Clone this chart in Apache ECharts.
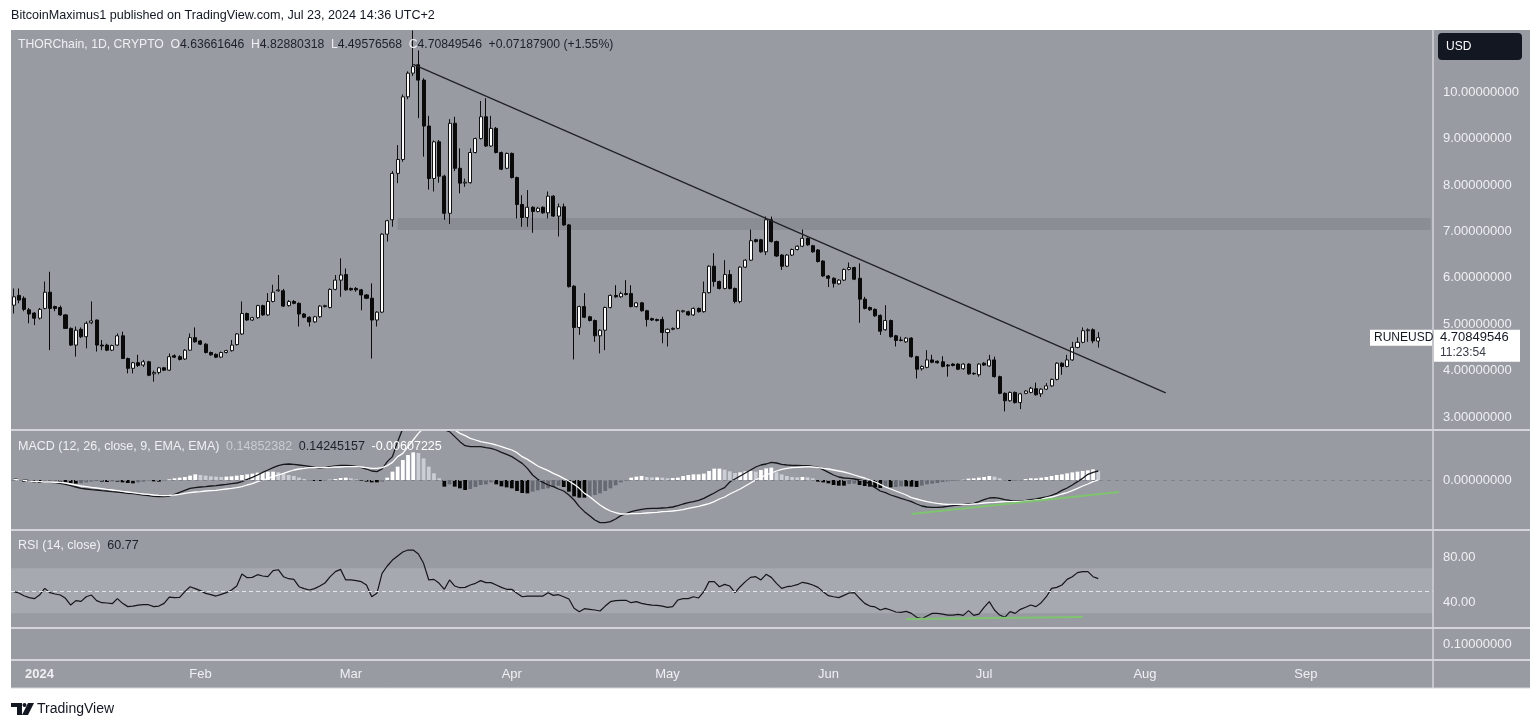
<!DOCTYPE html>
<html>
<head>
<meta charset="utf-8">
<title>THORChain RUNEUSD 1D</title>
<script src="https://cdn.jsdelivr.net/npm/echarts@6/dist/echarts.min.js"></script>
<style>
  html, body { margin: 0; padding: 0; background: #ffffff; }
  #chart { width: 1536px; height: 727px; }
</style>
</head>
<body>
<div id="chart"></div>
<script>
  // daily candles from 2023-12-27 to 2024-07-23, axis runs on to late September
  var startDate = Date.UTC(2023, 11, 27);
  var dayCount = 274;
  var monthNames = ['2024', 'Feb', 'Mar', 'Apr', 'May', 'Jun', 'Jul', 'Aug', 'Sep', 'Oct', 'Nov', 'Dec'];

  // [open, high, low, close]
  var ohlc = [
    [5.41,5.77,5.23,5.59],[5.62,5.77,5.45,5.52],[5.56,5.60,5.28,5.32],[5.31,5.35,5.02,5.22],[5.24,5.26,4.98,5.13],
    [5.13,5.35,5.10,5.32],[5.34,5.92,5.32,5.69],[5.69,6.13,4.44,5.34],[5.38,5.40,5.28,5.34],[5.36,5.40,5.18,5.20],
    [5.20,5.22,4.90,4.91],[4.91,4.93,4.53,4.55],[4.55,4.95,4.30,4.87],[4.89,4.93,4.70,4.73],[4.73,5.06,4.48,5.02],
    [5.03,5.49,5.00,5.07],[5.09,5.10,4.41,4.55],[4.55,4.66,4.44,4.53],[4.55,4.58,4.42,4.44],[4.44,4.56,4.42,4.54],
    [4.55,4.80,4.53,4.75],[4.75,4.84,4.25,4.26],[4.26,4.28,3.94,4.05],[4.05,4.19,3.94,4.17],[4.17,4.34,4.08,4.11],
    [4.12,4.23,4.08,4.19],[4.19,4.21,3.88,3.90],[3.93,4.00,3.76,3.96],[3.96,4.08,3.92,4.06],[4.06,4.08,3.99,4.01],
    [4.01,4.37,3.99,4.30],[4.32,4.35,4.27,4.29],[4.30,4.33,4.22,4.24],[4.25,4.46,4.23,4.44],[4.44,4.80,4.43,4.71],
    [4.71,4.93,4.60,4.62],[4.64,4.66,4.55,4.57],[4.57,4.59,4.37,4.39],[4.39,4.41,4.32,4.34],[4.35,4.37,4.27,4.29],
    [4.29,4.41,4.27,4.39],[4.39,4.45,4.37,4.43],[4.43,4.66,4.41,4.55],[4.56,4.81,4.54,4.79],[4.79,5.49,4.77,5.23],
    [5.23,5.25,5.07,5.09],[5.09,5.16,5.07,5.14],[5.14,5.42,5.12,5.40],[5.40,5.42,5.18,5.20],[5.20,5.67,5.18,5.49],
    [5.49,5.85,5.47,5.69],[5.72,6.06,5.70,5.74],[5.72,5.76,5.37,5.39],[5.40,5.52,5.38,5.49],[5.49,5.52,5.43,5.45],
    [5.45,5.47,4.95,5.22],[5.22,5.24,5.13,5.15],[5.15,5.17,4.95,5.05],[5.05,5.18,5.03,5.16],[5.16,5.41,5.14,5.39],
    [5.38,5.42,5.36,5.40],[5.36,5.77,5.34,5.75],[5.75,6.06,5.73,5.95],[5.95,6.42,5.59,6.06],[6.07,6.20,5.72,5.74],
    [5.77,5.79,5.72,5.74],[5.77,5.80,5.70,5.74],[5.74,5.76,5.30,5.63],[5.63,5.65,5.54,5.56],[5.56,5.88,4.26,5.09],
    [5.09,5.28,4.95,5.26],[5.26,6.96,5.24,6.94],[6.94,7.25,6.78,7.23],[7.25,8.30,7.10,8.25],[8.25,8.86,8.04,8.55],
    [8.55,9.95,8.50,9.90],[9.90,10.45,9.85,10.41],[10.41,11.33,10.35,10.55],[10.59,10.90,9.44,10.26],[10.26,10.30,8.61,9.27],
    [9.27,9.49,7.90,8.14],[8.14,8.96,7.86,8.93],[8.93,8.97,8.05,8.19],[8.19,8.22,7.25,7.39],[7.39,9.42,7.16,9.33],
    [9.33,9.47,8.30,8.36],[8.36,8.79,7.82,8.04],[8.04,8.14,7.96,8.06],[8.05,8.79,8.03,8.70],[8.70,9.02,8.68,9.00],
    [9.00,9.81,8.98,9.47],[9.47,9.87,8.82,8.84],[8.84,9.49,8.82,9.22],[9.22,9.25,8.68,8.70],[8.70,8.72,8.32,8.34],
    [8.36,8.70,8.34,8.68],[8.68,8.70,8.14,8.16],[8.16,8.18,7.28,7.58],[7.58,7.78,7.10,7.30],[7.30,7.89,7.10,7.52],
    [7.52,7.54,6.97,7.43],[7.43,7.53,7.41,7.50],[7.52,7.54,7.38,7.40],[7.40,7.86,7.28,7.76],[7.76,7.78,7.31,7.33],
    [7.33,7.60,6.89,7.53],[7.53,7.60,7.12,7.14],[7.14,7.16,5.79,5.81],[5.82,5.84,4.24,4.93],[4.93,5.40,4.77,5.38],
    [5.38,5.67,5.13,5.15],[5.16,5.18,5.06,5.08],[5.08,5.10,4.62,4.75],[4.75,4.89,4.37,4.87],[4.87,5.38,4.44,5.36],
    [5.36,5.64,5.34,5.62],[5.62,5.84,5.57,5.59],[5.59,5.70,5.57,5.66],[5.66,5.95,5.62,5.64],[5.66,5.84,5.36,5.38],
    [5.38,5.48,5.36,5.46],[5.46,5.48,5.27,5.29],[5.29,5.31,4.95,5.10],[5.12,5.14,5.07,5.09],[5.10,5.12,5.06,5.08],
    [5.10,5.16,4.59,4.82],[4.82,4.91,4.52,4.89],[4.89,4.93,4.87,4.91],[4.91,5.31,4.89,5.29],[5.27,5.31,5.25,5.29],
    [5.27,5.29,5.18,5.20],[5.20,5.36,5.18,5.34],[5.34,5.36,5.25,5.27],[5.27,5.92,5.25,5.68],[5.68,6.27,5.66,6.25],
    [6.25,6.53,5.81,5.92],[5.92,5.94,5.75,5.77],[5.77,6.38,5.75,6.07],[6.07,6.17,5.75,5.77],[5.77,5.79,5.45,5.49],
    [5.49,6.25,5.45,6.23],[6.23,6.40,6.21,6.38],[6.38,7.04,6.36,6.80],[6.82,6.84,6.76,6.78],[6.82,6.84,6.54,6.56],
    [6.56,7.32,6.49,7.25],[7.25,7.32,6.76,6.78],[6.78,6.80,6.45,6.47],[6.49,6.51,6.17,6.25],[6.25,6.51,6.23,6.49],
    [6.49,6.63,6.47,6.61],[6.61,6.70,6.59,6.68],[6.68,7.04,6.66,6.85],[6.85,6.87,6.69,6.71],[6.69,6.71,6.54,6.56],
    [6.60,6.62,6.33,6.35],[6.36,6.38,6.02,6.04],[6.04,6.06,5.80,5.99],[5.99,6.01,5.79,5.88],[5.87,5.97,5.85,5.95],
    [5.95,6.20,5.93,6.18],[6.18,6.33,6.16,6.22],[6.22,6.24,5.95,5.97],[5.99,6.31,5.03,5.54],[5.54,5.59,5.32,5.34],
    [5.36,5.38,5.29,5.31],[5.32,5.34,5.16,5.18],[5.19,5.21,4.77,4.85],[4.88,5.41,4.86,5.08],[5.08,5.10,4.71,4.73],
    [4.75,4.77,4.52,4.65],[4.66,4.73,4.63,4.65],[4.62,4.72,4.60,4.70],[4.70,4.72,4.28,4.30],[4.30,4.32,3.83,4.03],
    [4.04,4.11,4.00,4.09],[4.07,4.44,4.05,4.23],[4.23,4.34,4.16,4.18],[4.20,4.22,4.15,4.17],[4.19,4.31,4.07,4.09],
    [4.12,4.14,3.87,4.10],[4.14,4.16,4.09,4.11],[4.14,4.16,4.01,4.03],[4.04,4.16,4.02,4.14],[4.14,4.16,3.91,3.93],
    [3.94,3.96,3.91,3.93],[3.91,4.16,3.87,4.14],[4.16,4.18,4.10,4.12],[4.10,4.34,4.08,4.23],[4.23,4.30,3.85,3.87],
    [3.87,3.89,3.49,3.51],[3.51,3.53,3.12,3.35],[3.35,3.55,3.33,3.53],[3.53,3.55,3.29,3.31],[3.31,3.52,3.17,3.50],
    [3.51,3.58,3.49,3.56],[3.53,3.65,3.51,3.62],[3.61,3.74,3.46,3.48],[3.50,3.62,3.43,3.60],[3.60,3.73,3.58,3.67],
    [3.67,3.83,3.65,3.81],[3.81,4.18,3.79,4.16],[4.16,4.18,3.91,4.09],[4.09,4.34,4.07,4.23],[4.23,4.62,4.21,4.50],
    [4.50,4.72,4.48,4.61],[4.61,4.93,4.59,4.86],[4.86,4.91,4.62,4.88],[4.88,4.91,4.59,4.64],[4.6366,4.8288,4.4958,4.7085]
  ];

  var macdLine = [
    0.02,0.007,0,-0.013,-0.02,-0.033,-0.04,-0.047,-0.053,-0.067,
    -0.087,-0.113,-0.14,-0.167,-0.18,-0.193,-0.2,-0.213,-0.22,-0.233,
    -0.24,-0.253,-0.267,-0.273,-0.287,-0.3,-0.313,-0.327,-0.333,-0.333,
    -0.32,-0.287,-0.247,-0.207,-0.167,-0.153,-0.14,-0.133,-0.12,-0.113,
    -0.1,-0.087,-0.073,-0.06,-0.033,0.013,0.053,0.1,0.153,0.2,
    0.247,0.287,0.313,0.32,0.313,0.3,0.287,0.273,0.253,0.233,
    0.247,0.267,0.28,0.293,0.293,0.287,0.273,0.247,0.22,0.18,
    0.167,0.22,0.367,0.467,0.767,1.033,1.3,1.567,1.7,1.667,
    1.5,1.333,1.133,1.0,0.967,0.867,0.767,0.687,0.667,0.667,
    0.667,0.647,0.633,0.6,0.553,0.513,0.467,0.4,0.333,0.233,
    0.1,0.013,-0.047,-0.1,-0.133,-0.18,-0.22,-0.3,-0.4,-0.533,
    -0.633,-0.713,-0.8,-0.853,-0.853,-0.833,-0.78,-0.713,-0.673,-0.633,
    -0.607,-0.587,-0.573,-0.567,-0.567,-0.56,-0.553,-0.54,-0.513,-0.48,
    -0.453,-0.433,-0.407,-0.367,-0.313,-0.26,-0.2,-0.153,-0.04,0.02,
    0.08,0.14,0.2,0.26,0.3,0.32,0.353,0.34,0.313,0.3,
    0.293,0.293,0.287,0.287,0.273,0.253,0.207,0.153,0.1,0.06,
    0.04,0.033,0.02,0,-0.02,-0.087,-0.153,-0.22,-0.253,-0.3,
    -0.333,-0.367,-0.4,-0.433,-0.48,-0.52,-0.54,-0.547,-0.547,-0.54,
    -0.527,-0.513,-0.5,-0.487,-0.473,-0.467,-0.433,-0.393,-0.36,-0.353,
    -0.367,-0.393,-0.407,-0.413,-0.42,-0.407,-0.393,-0.38,-0.36,-0.34,
    -0.307,-0.267,-0.207,-0.16,-0.1,-0.033,0.033,0.113,0.153,0.18
  ];

  var signalLine = [
    0.013,0,-0.007,-0.02,-0.027,-0.033,-0.04,-0.04,-0.047,-0.047,
    -0.06,-0.08,-0.1,-0.12,-0.133,-0.147,-0.16,-0.173,-0.187,-0.2,
    -0.213,-0.227,-0.24,-0.253,-0.267,-0.28,-0.287,-0.3,-0.307,-0.313,
    -0.307,-0.3,-0.287,-0.267,-0.253,-0.24,-0.233,-0.22,-0.213,-0.207,
    -0.193,-0.18,-0.167,-0.153,-0.133,-0.1,-0.073,-0.033,0,0.033,
    0.067,0.1,0.133,0.167,0.2,0.22,0.233,0.247,0.247,0.247,
    0.247,0.253,0.26,0.26,0.267,0.267,0.267,0.26,0.247,0.233,
    0.233,0.247,0.287,0.353,0.467,0.533,0.667,0.8,0.933,1.033,
    1.133,1.167,1.18,1.167,1.067,1.0,0.933,0.887,0.833,0.8,
    0.767,0.747,0.727,0.7,0.667,0.633,0.6,0.547,0.467,0.413,
    0.347,0.28,0.233,0.187,0.133,0.087,0.033,-0.02,-0.087,-0.167,
    -0.267,-0.333,-0.42,-0.5,-0.567,-0.62,-0.653,-0.68,-0.68,-0.673,
    -0.673,-0.667,-0.66,-0.653,-0.647,-0.633,-0.627,-0.62,-0.607,-0.593,
    -0.567,-0.547,-0.527,-0.5,-0.473,-0.433,-0.38,-0.34,-0.28,-0.23,
    -0.18,-0.12,-0.06,0,0.05,0.1,0.14,0.18,0.213,0.233,
    0.247,0.253,0.26,0.267,0.26,0.247,0.233,0.22,0.2,0.18,
    0.16,0.133,0.1,0.067,0.04,0,-0.04,-0.087,-0.14,-0.18,
    -0.22,-0.26,-0.3,-0.353,-0.38,-0.407,-0.433,-0.453,-0.467,-0.48,
    -0.487,-0.487,-0.487,-0.487,-0.487,-0.48,-0.473,-0.46,-0.453,-0.447,
    -0.44,-0.433,-0.433,-0.427,-0.427,-0.42,-0.413,-0.4,-0.387,-0.36,
    -0.34,-0.313,-0.28,-0.253,-0.213,-0.167,-0.12,-0.08,-0.033,0
  ];

  var histogram = [
    -0.013,-0.02,-0.033,-0.04,-0.047,-0.06,-0.047,-0.033,-0.02,-0.033,
    -0.053,-0.067,-0.073,-0.067,-0.047,-0.033,-0.02,-0.033,-0.04,-0.027,
    -0.033,-0.047,-0.06,-0.067,-0.047,-0.033,-0.02,-0.027,-0.033,-0.013,
    0.013,0.033,0.047,0.06,0.087,0.113,0.1,0.087,0.073,0.067,
    0.06,0.067,0.073,0.087,0.1,0.113,0.127,0.147,0.16,0.167,
    0.167,0.153,0.127,0.1,0.08,0.047,0.02,-0.013,-0.02,-0.02,
    -0.013,0.005,0.02,0.04,0.047,0.033,0.013,-0.013,-0.033,-0.047,
    -0.047,-0.033,0.047,0.167,0.267,0.4,0.5,0.553,0.54,0.433,
    0.267,0.133,0.033,-0.133,-0.087,-0.133,-0.167,-0.2,-0.18,-0.14,
    -0.1,-0.087,-0.047,-0.087,-0.127,-0.147,-0.167,-0.22,-0.26,-0.267,
    -0.233,-0.207,-0.18,-0.167,-0.14,-0.113,-0.14,-0.233,-0.327,-0.353,
    -0.353,-0.333,-0.3,-0.267,-0.22,-0.167,-0.107,-0.047,-0.013,0.047,
    0.067,0.08,0.06,0.053,0.053,0.047,0.033,0.04,0.047,0.08,
    0.1,0.113,0.113,0.127,0.18,0.227,0.227,0.207,0.173,0.14,
    0.153,0.173,0.18,0.167,0.2,0.233,0.247,0.153,0.113,0.08,
    0.06,0.053,0.06,0.053,0.033,-0.033,-0.047,-0.067,-0.1,-0.113,
    -0.113,-0.08,-0.073,-0.1,-0.12,-0.133,-0.147,-0.16,-0.127,-0.147,
    -0.14,-0.127,-0.127,-0.133,-0.14,-0.113,-0.087,-0.073,-0.06,-0.04,
    -0.027,-0.013,-0.007,0.005,0.027,0.033,0.047,0.06,0.08,0.067,
    0.033,-0.013,-0.02,-0.013,-0.007,0.02,0.033,0.033,0.047,0.06,
    0.08,0.1,0.113,0.133,0.153,0.167,0.18,0.193,0.213,0.18
  ];

  var rsiLine = [
    49.2,48.0,45.6,43.9,43.0,46.2,52.1,48.3,47.1,46.2,
    43.3,37.3,41.2,40.6,44.7,46.2,41.2,39.4,39.1,38.5,
    43.0,38.8,35.9,36.4,37.3,37.6,37.6,35.9,36.4,38.8,
    44.4,43.9,44.1,49.2,53.6,51.9,50.1,47.7,46.5,45.3,
    46.8,48.3,50.7,54.2,64.9,61.6,61.9,64.3,63.1,62.5,
    67.9,68.7,62.5,60.7,60.1,53.6,51.9,50.7,51.9,54.2,
    56.9,62.5,67.0,69.0,59.6,59.6,59.0,58.1,55.1,44.7,
    47.7,65.5,72.0,77.3,80.9,84.4,86.2,86.2,82.7,74.4,
    59.6,60.1,56.6,51.3,59.6,54.2,52.7,53.0,55.1,56.6,
    59.0,57.2,57.2,55.1,53.0,51.3,51.3,47.7,44.7,45.3,
    45.3,45.3,45.3,48.3,45.9,46.5,44.7,42.7,34.4,31.4,
    34.1,33.5,32.9,32.0,36.4,40.3,41.2,41.5,41.5,39.4,
    40.3,38.8,37.9,37.3,37.0,36.4,35.3,35.9,41.8,43.0,
    43.0,44.7,43.6,49.2,58.1,58.1,53.6,55.7,54.2,48.3,
    53.6,58.1,61.9,62.5,59.6,64.6,61.9,56.6,52.1,53.6,
    54.2,55.4,57.5,56.6,55.1,53.0,49.2,45.6,44.7,43.9,
    45.9,48.0,48.3,43.3,38.8,36.4,35.6,32.9,34.4,32.9,
    31.1,30.8,31.7,29.9,26.4,25.2,27.6,29.9,29.9,29.3,
    28.4,28.4,29.0,28.1,32.3,28.1,29.3,35.3,40.3,32.9,
    28.4,26.4,31.4,29.9,33.5,35.3,37.3,35.9,39.4,44.7,
    52.1,53.0,55.1,60.1,62.5,66.1,67.0,67.0,62.5,60.77
  ];

  var priceTicks = [3, 4, 5, 6, 7, 8, 9, 10];
  var macdTicks = [0];
  var rsiTicks = [40, 80];
  var extraTicks = [0.1];

  var trendLine = [['2024-03-13', 10.60], ['2024-08-05', 3.52]];
  var macdSupport = [['2024-06-17', -0.68], ['2024-07-27', -0.24]];
  var rsiSupport = [['2024-06-16', 24.9], ['2024-07-20', 26.7]];
  var resistanceZone = [7.03, 7.29];
  var resistanceStart = '2024-03-10';

  var lastClose = 4.70849546;

  var dates = [];
  for (var i = 0; i < dayCount; i++) {
    dates.push(new Date(startDate + i * 86400000).toISOString().slice(0, 10));
  }

  var candleData = ohlc.map(function (c) { return [c[0], c[3], c[2], c[1]]; });

  var font = 'Liberation Sans, Arial, sans-serif';
  var paneBg = '#989ba2';
  var sepColor = '#d3d5da';
  var lightText = '#eef0f3';
  var darkText = '#131722';

  var grids = [
    { left: 11, right: 103, top: 30, height: 400 },
    { left: 11, right: 103, top: 430, height: 100 },
    { left: 11, right: 103, top: 530, height: 98 },
    { left: 11, right: 103, top: 628, height: 32 }
  ];

  function makeX(idx) {
    return {
      type: 'category',
      gridIndex: idx,
      data: dates,
      boundaryGap: true,
      axisLine: { show: false },
      axisTick: { show: false },
      splitLine: { show: false },
      axisLabel: idx === 3 ? {
        show: true,
        margin: 8,
        color: lightText,
        fontFamily: font,
        fontSize: 13,
        interval: function (index, value) { return value.slice(8) === '01'; },
        formatter: function (value) {
          var m = parseInt(value.slice(5, 7), 10);
          return m === 1 ? '{y|2024}' : monthNames[m - 1];
        },
        rich: { y: { fontWeight: 'bold', fontSize: 13, color: lightText, fontFamily: font } }
      } : { show: false }
    };
  }

  function makeY(idx, min, max, ticks, fmt) {
    return {
      type: 'value',
      gridIndex: idx,
      position: 'right',
      min: min,
      max: max,
      axisLine: { show: false },
      axisTick: { show: false },
      splitLine: { show: false },
      axisLabel: {
        show: true,
        customValues: ticks,
        margin: 10,
        color: lightText,
        fontFamily: font,
        fontSize: 13,
        formatter: fmt
      }
    };
  }

  var chart = echarts.init(document.getElementById('chart'));

  var option = {
    animation: false,
    backgroundColor: '#ffffff',
    grid: grids,
    xAxis: [makeX(0), makeX(1), makeX(2), makeX(3)],
    yAxis: [
      makeY(0, 2.72, 11.34, priceTicks, function (v) { return v.toFixed(8); }),
      makeY(1, -1, 1, macdTicks, function (v) { return v.toFixed(8); }),
      makeY(2, 16.9, 104, rsiTicks, function (v) { return v.toFixed(2); }),
      makeY(3, 0, 0.2, extraTicks, function (v) { return v.toFixed(8); })
    ],
    series: [
      {
        name: 'RUNEUSD',
        type: 'candlestick',
        xAxisIndex: 0,
        yAxisIndex: 0,
        clip: true,
        barWidth: '68%',
        data: candleData,
        itemStyle: {
          color: '#ffffff',
          color0: '#0a0a0a',
          borderColor: '#111111',
          borderColor0: '#0a0a0a',
          borderWidth: 1
        },
        markArea: {
          silent: true,
          itemStyle: { color: 'rgba(105,108,116,0.3)' },
          data: [[
            { xAxis: resistanceStart, yAxis: resistanceZone[0] },
            { xAxis: dates[dates.length - 1], yAxis: resistanceZone[1] }
          ]]
        }
      },
      {
        name: 'trend',
        type: 'line',
        xAxisIndex: 0,
        yAxisIndex: 0,
        data: trendLine,
        symbol: 'none',
        lineStyle: { color: '#202226', width: 1.3 }
      },
      {
        name: 'Histogram',
        type: 'bar',
        xAxisIndex: 1,
        yAxisIndex: 1,
        barWidth: '72%',
        data: histogram,
        itemStyle: {
          color: function (p) {
            var v = p.value;
            var prev = p.dataIndex > 0 ? histogram[p.dataIndex - 1] : 0;
            if (v >= 0) return v >= prev ? '#ffffff' : '#cbced4';
            return v <= prev ? '#050505' : '#676a72';
          }
        },
        markLine: {
          silent: true,
          symbol: 'none',
          label: { show: false },
          lineStyle: { color: '#80838b', type: [4, 4], width: 1 },
          data: [{ yAxis: 0 }]
        }
      },
      {
        name: 'MACD',
        type: 'line',
        xAxisIndex: 1,
        yAxisIndex: 1,
        data: macdLine,
        symbol: 'none',
        lineStyle: { color: '#15161a', width: 1.3 }
      },
      {
        name: 'Signal',
        type: 'line',
        xAxisIndex: 1,
        yAxisIndex: 1,
        data: signalLine,
        symbol: 'none',
        lineStyle: { color: '#ffffff', width: 1.3 }
      },
      {
        name: 'macd support',
        type: 'line',
        xAxisIndex: 1,
        yAxisIndex: 1,
        data: macdSupport,
        symbol: 'none',
        lineStyle: { color: '#7fc46f', width: 2 }
      },
      {
        name: 'RSI',
        type: 'line',
        xAxisIndex: 2,
        yAxisIndex: 2,
        data: rsiLine,
        symbol: 'none',
        lineStyle: { color: '#15161a', width: 1.2 },
        markArea: {
          silent: true,
          itemStyle: { color: 'rgba(255,255,255,0.14)' },
          data: [[{ yAxis: 30 }, { yAxis: 70 }]]
        },
        markLine: {
          silent: true,
          symbol: 'none',
          label: { show: false },
          lineStyle: { color: '#e4e6ea', type: [4, 3], width: 1 },
          data: [{ yAxis: 50 }]
        }
      },
      {
        name: 'rsi support',
        type: 'line',
        xAxisIndex: 2,
        yAxisIndex: 2,
        data: rsiSupport,
        symbol: 'none',
        lineStyle: { color: '#7fc46f', width: 2 }
      }
    ]
  };

  chart.setOption(option);

  var py = chart.convertToPixel({ yAxisIndex: 0 }, lastClose);

  var graphics = [
    { type: 'rect', z: -10, shape: { x: 11, y: 30, width: 1519, height: 658 }, style: { fill: paneBg } },
    { type: 'line', z: 50, shape: { x1: 11, y1: 430, x2: 1530, y2: 430 }, style: { stroke: sepColor, lineWidth: 2 } },
    { type: 'line', z: 50, shape: { x1: 11, y1: 530, x2: 1530, y2: 530 }, style: { stroke: sepColor, lineWidth: 2 } },
    { type: 'line', z: 50, shape: { x1: 11, y1: 628, x2: 1530, y2: 628 }, style: { stroke: sepColor, lineWidth: 2 } },
    { type: 'line', z: 50, shape: { x1: 11, y1: 660, x2: 1530, y2: 660 }, style: { stroke: sepColor, lineWidth: 2 } },
    { type: 'line', z: 50, shape: { x1: 1433, y1: 30, x2: 1433, y2: 688 }, style: { stroke: sepColor, lineWidth: 1.5 } },
    { type: 'line', z: 50, shape: { x1: 11, y1: 688, x2: 1530, y2: 688 }, style: { stroke: sepColor, lineWidth: 1 } },
    {
      type: 'text', z: 60, x: 11, y: 16,
      style: { text: 'BitcoinMaximus1 published on TradingView.com, Jul 23, 2024 14:36 UTC+2', fill: darkText, font: '12.6px ' + font, verticalAlign: 'middle' }
    },
    {
      type: 'text', z: 60, x: 18, y: 45,
      style: {
        text: '{a|THORChain, 1D, CRYPTO}  {a|O}{b|4.63661646}  {a|H}{b|4.82880318}  {a|L}{b|4.49576568}  {a|C}{b|4.70849546}  {b|+0.07187900 (+1.55%)}',
        verticalAlign: 'middle',
        rich: {
          a: { fill: lightText, font: '12.2px ' + font },
          b: { fill: '#1d2029', font: '12.2px ' + font }
        }
      }
    },
    {
      type: 'text', z: 60, x: 18, y: 447,
      style: {
        text: '{a|MACD (12, 26, close, 9, EMA, EMA)}  {c|0.14852382}  {b|0.14245157}  {d|-0.00607225}',
        verticalAlign: 'middle',
        rich: {
          a: { fill: lightText, font: '12.5px ' + font },
          b: { fill: '#1d2029', font: '12.5px ' + font },
          c: { fill: '#c9ccd2', font: '12.5px ' + font },
          d: { fill: '#ffffff', font: '12.5px ' + font }
        }
      }
    },
    {
      type: 'text', z: 60, x: 18, y: 546,
      style: {
        text: '{a|RSI (14, close)}  {b|60.77}',
        verticalAlign: 'middle',
        rich: {
          a: { fill: lightText, font: '12.5px ' + font },
          b: { fill: '#1d2029', font: '12.5px ' + font }
        }
      }
    },
    { type: 'rect', z: 60, shape: { x: 1438, y: 33, width: 84, height: 27, r: 4 }, style: { fill: '#131722' } },
    { type: 'text', z: 61, x: 1446, y: 46.5, style: { text: 'USD', fill: '#ffffff', font: '12px ' + font, verticalAlign: 'middle' } },
    { type: 'rect', z: 60, shape: { x: 1370, y: py - 8, width: 62, height: 16 }, style: { fill: '#ffffff' } },
    { type: 'text', z: 61, x: 1374, y: py, style: { text: 'RUNEUSD', fill: darkText, font: '12px ' + font, verticalAlign: 'middle' } },
    { type: 'rect', z: 60, shape: { x: 1434, y: py - 8, width: 86, height: 32 }, style: { fill: '#ffffff' } },
    { type: 'text', z: 61, x: 1440, y: py, style: { text: '4.70849546', fill: darkText, font: '13px ' + font, verticalAlign: 'middle' } },
    { type: 'text', z: 61, x: 1440, y: py + 15, style: { text: '11:23:54', fill: '#3a3e48', font: '12px ' + font, verticalAlign: 'middle' } },
    // TradingView footer logo
    { type: 'polygon', z: 60, shape: { points: [[11, 703], [22, 703], [22, 715], [17, 715], [17, 707], [11, 707]] }, style: { fill: darkText } },
    { type: 'circle', z: 60, shape: { cx: 24.5, cy: 705, r: 2 }, style: { fill: darkText } },
    { type: 'polygon', z: 60, shape: { points: [[28, 703], [34, 703], [28, 715], [22, 715]] }, style: { fill: darkText } },
    { type: 'text', z: 60, x: 37, y: 709, style: { text: 'TradingView', fill: darkText, font: '14px ' + font, verticalAlign: 'middle' } }
  ];

  chart.setOption({ graphic: graphics });
</script>
</body>
</html>
